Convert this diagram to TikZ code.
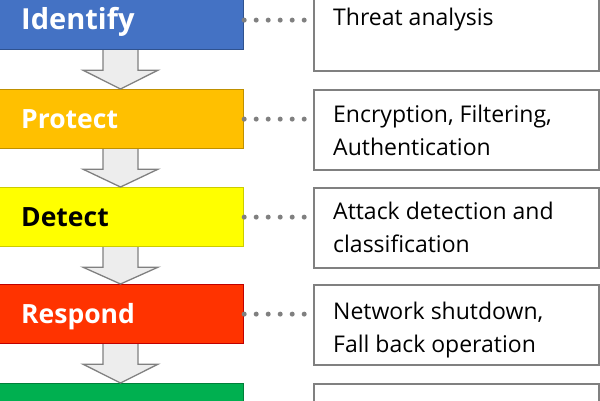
\documentclass[tikz,border=0pt]{standalone}
\usepackage{fontspec}
\setmainfont{Open Sans}
\usetikzlibrary{calc}
\definecolor{cBlue}{HTML}{4472C4}\definecolor{cBlueD}{HTML}{2F528F}
\definecolor{cOrange}{HTML}{FFC000}\definecolor{cOrangeD}{HTML}{BF9000}
\definecolor{cYellow}{HTML}{FFFF00}\definecolor{cYellowD}{HTML}{CCCC00}
\definecolor{cRed}{HTML}{FF3300}\definecolor{cRedD}{HTML}{C00000}
\definecolor{cGreen}{HTML}{00B050}\definecolor{cGreenD}{HTML}{00803A}
\definecolor{cGrayL}{HTML}{EDEDED}\definecolor{cGray}{HTML}{808080}
\tikzset{
  lbox/.style={draw, line width=1.2pt, minimum width=248pt, minimum height=59pt, anchor=north west, inner sep=0pt},
  rbox/.style={draw=cGray, fill=white, line width=1.5pt, minimum width=285pt, minimum height=80pt, anchor=north west, inner sep=0pt},
  ltext/.style={font=\fontsize{26.5}{30}\selectfont\bfseries, anchor=base west, inner sep=0pt},
  rtext/.style={font=\fontsize{23}{33}\selectfont, anchor=base west, inner sep=0pt, align=left},
  blockarrow/.style={draw=cGray, fill=cGrayL, line width=1.3pt, line join=miter},
  dots/.style={draw=cGray, line width=5pt, line cap=round, dash pattern=on 0pt off 12pt, shorten >=7pt}
}
\begin{document}
\begin{tikzpicture}[x=1pt,y=-1pt]
\useasboundingbox (0,0) rectangle (600,400);
% left boxes
\node[lbox, fill=cBlue, draw=cBlueD] (b1) at (-5,-10) {};
\node[lbox, fill=cOrange, draw=cOrangeD] (b2) at (-5,89) {};
\node[lbox, fill=cYellow, draw=cYellowD] (b3) at (-5,187) {};
\node[lbox, fill=cRed, draw=cRedD] (b4) at (-5,284) {};
\node[lbox, fill=cGreen, draw=cGreenD] (b5) at (-5,383) {};
% block arrows
\foreach \a/\b in {b1/b2,b2/b3,b3/b4,b4/b5}{
  \draw[blockarrow] ($(\a.south west)+(108,0)$) -- ($(\a.south west)+(108,20)$) -- ($(\a.south west)+(88,20)$)
    -- ($(\b.north west)+(125.5,0)$) -- ($(\a.south west)+(163,20)$) -- ($(\a.south west)+(143,20)$) -- ($(\a.south west)+(143,0)$);
}
% labels
\node[ltext, text=white, font=\fontsize{29}{32}\selectfont\bfseries] (l1) at (21,29.5) {Identify};
\node[ltext, text=white] (l2) at (21,128) {Protect};
\node[ltext, text=black] (l3) at (21,226) {Detect};
\node[ltext, text=white] (l4) at (21,323.5) {Respond};
% right boxes
\node[rbox] (r1) at (313,-10) {};
\node[rbox] (r2) at (313,89) {};
\node[rbox] (r3) at (313,187) {};
\node[rbox] (r4) at (313,284) {};
\node[rbox] (r5) at (313,383) {};
\node[rtext] (t1) at (333,25) {Threat analysis};
\node[rtext] (t2) at (333,155) {Encryption, Filtering,\\Authentication};
\node[rtext] (t3) at (333,252) {Attack detection and\\classification};
\node[rtext] (t4) at (333,352) {Network shutdown,\\Fall back operation};
% dotted connectors
\foreach \i in {1,2,3,4}{
  \draw[dots] (b\i.east) -- (b\i.east -| r\i.west);
}
\end{tikzpicture}
\end{document}
